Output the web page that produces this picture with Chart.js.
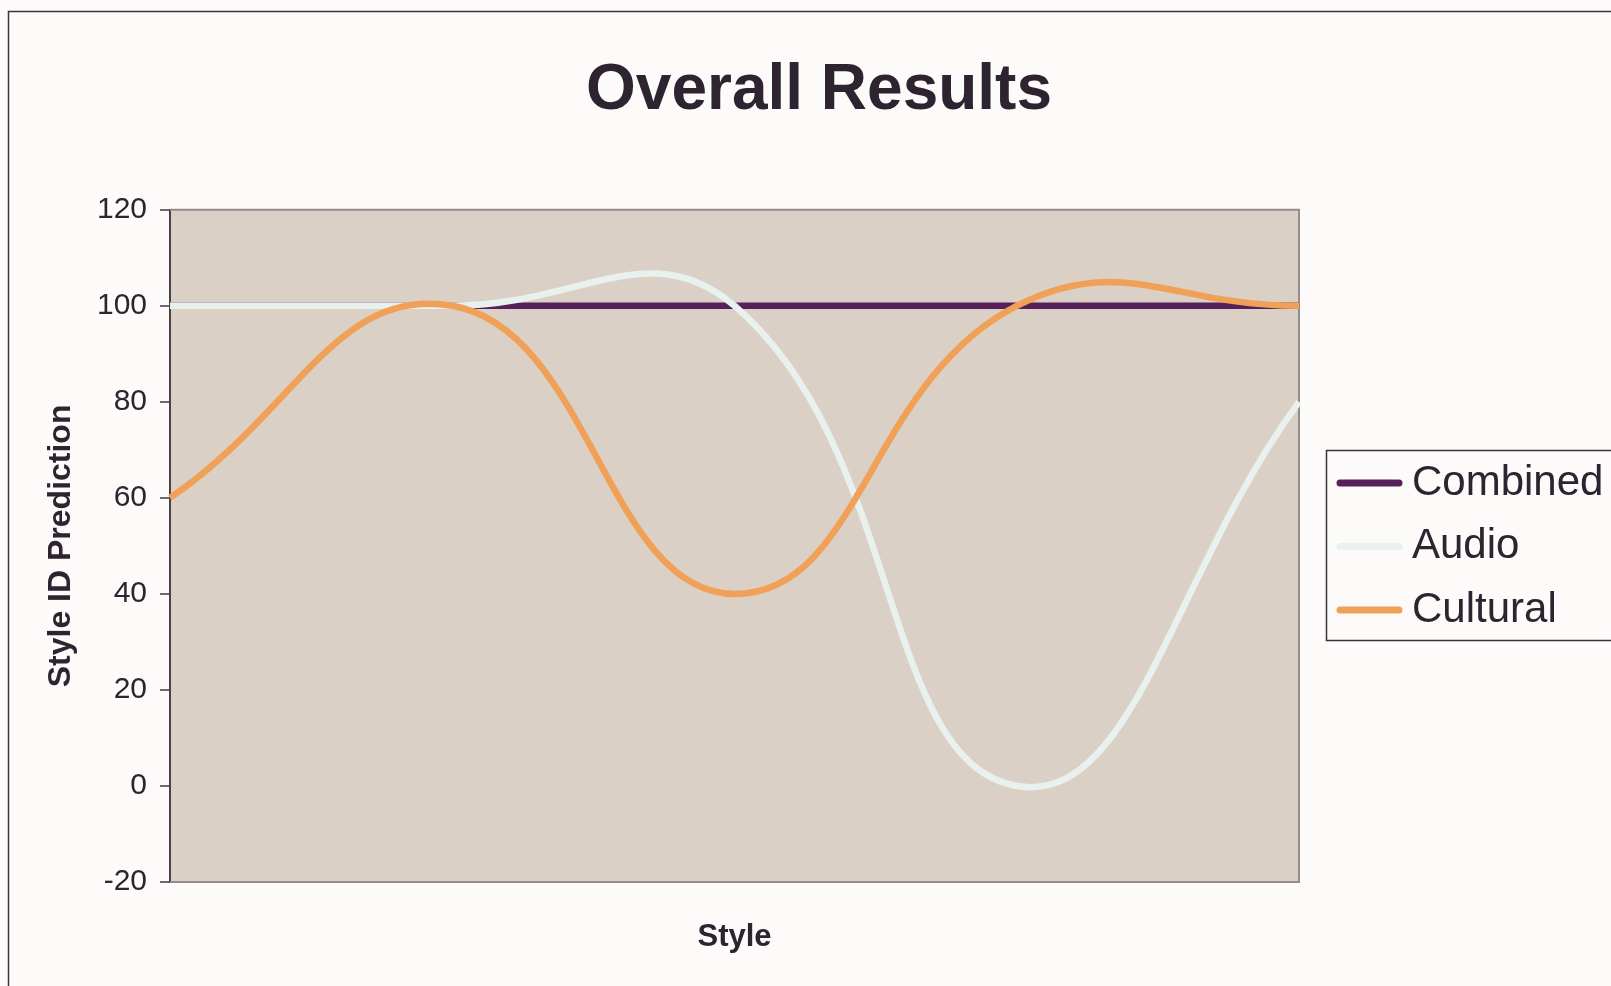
<!DOCTYPE html>
<html>
<head>
<meta charset="utf-8">
<title>Overall Results</title>
<script src="https://cdn.jsdelivr.net/npm/chart.js@4/dist/chart.umd.min.js"></script>
<style>
  html, body { margin: 0; padding: 0; background: #fcfbf9; }
  #wrap { width: 1611px; height: 986px; }
</style>
</head>
<body>
<div id="wrap"><canvas id="resultsChart" width="1611" height="986"></canvas></div>
<script>
// Prediction per style for each method
const styles = ["1", "2", "3", "4", "5"];
const combined = [100, 100, 100, 100, 100];
const audio = [100, 100, 100, 0, 80];
const cultural = [60, 100, 40, 100, 100];
const yMin = -20;
const yMax = 120;
const yStep = 20;

const textColor = "#2e2330";
const pageBg = "#fcfbf9";
const plotBg = "#dad0c6";

Chart.defaults.font.family = "'Liberation Sans', Arial, sans-serif";
Chart.defaults.color = textColor;

// page background, outer frame, plot area fill and its grey edges
const frame = {
  id: "frame",
  beforeDraw(chart) {
    const { ctx, chartArea: a } = chart;
    ctx.save();
    ctx.fillStyle = pageBg;
    ctx.fillRect(0, 0, chart.width, chart.height);
    ctx.strokeStyle = "#3d3340";
    ctx.lineWidth = 1.5;
    ctx.beginPath();
    ctx.moveTo(8.5, chart.height);
    ctx.lineTo(8.5, 11.5);
    ctx.lineTo(chart.width, 11.5);
    ctx.stroke();
    ctx.fillStyle = plotBg;
    ctx.fillRect(a.left, a.top, a.right - a.left, a.bottom - a.top);
    ctx.restore();
  },
  beforeDatasetsDraw(chart) {
    const { ctx, chartArea: a } = chart;
    ctx.save();
    ctx.strokeStyle = "#958b88";
    ctx.lineWidth = 2;
    ctx.beginPath();
    ctx.moveTo(a.left, a.top);
    ctx.lineTo(a.right, a.top);
    ctx.lineTo(a.right, a.bottom);
    ctx.lineTo(a.left, a.bottom);
    ctx.stroke();
    ctx.restore();
  }
};

// boxed legend on the right, partly running off the canvas
const boxLegend = {
  id: "boxLegend",
  afterDraw(chart) {
    const { ctx } = chart;
    ctx.save();
    ctx.fillStyle = pageBg;
    ctx.fillRect(1326, 450.5, 400, 190);
    ctx.strokeStyle = "#3a2f3d";
    ctx.lineWidth = 1.5;
    ctx.strokeRect(1326.5, 450.5, 400, 190);
    ctx.font = "42px 'Liberation Sans', Arial, sans-serif";
    ctx.textBaseline = "middle";
    ctx.textAlign = "left";
    chart.data.datasets.forEach((ds, i) => {
      const y = 483 + i * 63.5;
      ctx.strokeStyle = ds.borderColor;
      ctx.lineWidth = 7;
      ctx.lineCap = "round";
      ctx.beginPath();
      ctx.moveTo(1340, y);
      ctx.lineTo(1399, y);
      ctx.stroke();
      ctx.fillStyle = textColor;
      ctx.fillText(ds.label, 1412, y);
    });
    ctx.restore();
  }
};

new Chart(document.getElementById("resultsChart"), {
  type: "line",
  data: {
    labels: styles,
    datasets: [
      { label: "Combined", data: combined, borderColor: "#57205b", order: 3 },
      { label: "Audio", data: audio, borderColor: "#e9f1ee", order: 2 },
      { label: "Cultural", data: cultural, borderColor: "#f0a157", order: 1 }
    ]
  },
  options: {
    responsive: false,
    animation: false,
    layout: { padding: { left: 27, right: 0, top: 0, bottom: 0 } },
    elements: {
      line: { tension: 0.45, borderWidth: 6.5, fill: false },
      point: { radius: 0, hoverRadius: 0 }
    },
    plugins: {
      legend: { display: false },
      tooltip: { enabled: false },
      title: {
        display: true,
        text: "Overall Results",
        color: textColor,
        font: { size: 64, weight: "bold" },
        padding: { top: 53, bottom: 80 }
      }
    },
    scales: {
      x: {
        offset: false,
        grid: { display: false },
        border: { display: false },
        ticks: { display: false },
        title: {
          display: true,
          text: "Style",
          color: textColor,
          font: { size: 31, weight: "bold" },
          padding: { top: 0, bottom: 30 }
        },
        afterFit(scale) { scale.height = 104; }
      },
      y: {
        min: yMin,
        max: yMax,
        ticks: { stepSize: yStep, padding: 13, color: textColor, font: { size: 30 } },
        grid: {
          drawOnChartArea: false,
          drawTicks: true,
          tickLength: 10,
          color: "#6f6670",
          lineWidth: 2
        },
        border: { display: true, color: "#4a4048", width: 2 },
        title: {
          display: true,
          text: "Style ID Prediction",
          color: textColor,
          font: { size: 32, weight: "bold" },
          padding: { top: 15, bottom: 0 }
        },
        afterFit(scale) { scale.width = 143; }
      },
      // empty axis that keeps the space for the legend on the right
      side: {
        position: "right",
        min: yMin,
        max: yMax,
        ticks: { display: false },
        grid: { display: false },
        border: { display: false },
        afterFit(scale) { scale.width = 312; }
      }
    }
  },
  plugins: [frame, boxLegend]
});
</script>
</body>
</html>
